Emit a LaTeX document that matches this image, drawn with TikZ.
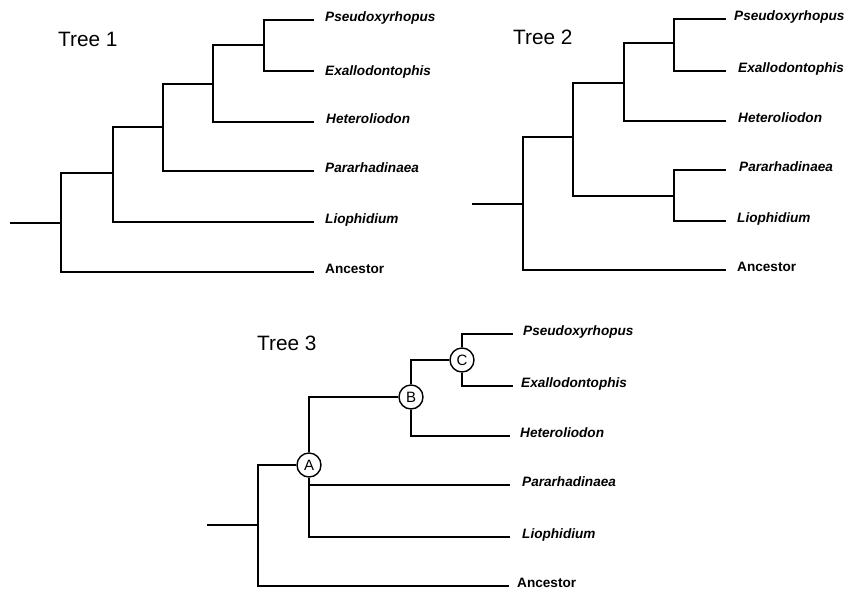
\documentclass[tikz,border=0pt]{standalone}
\usepackage{fontspec}
\setmainfont{Liberation Sans}
\begin{document}
\begin{tikzpicture}[x=1pt,y=-1pt,
  br/.style={line width=2.3pt, line join=miter},
  taxon/.style={anchor=west, inner sep=0pt, text height=9.8pt, text depth=0pt, yshift=3pt,
    font=\fontsize{13.6}{15}\selectfont\bfseries\itshape},
  anc/.style={taxon, font=\fontsize{13.6}{15}\selectfont\bfseries},
  ttl/.style={anchor=west, inner sep=0pt, text height=15pt, text depth=0pt,
    font=\fontsize{20.8}{24}\selectfont},
  circ/.style={circle, draw, line width=1.4pt, minimum size=24pt, inner sep=0pt,
    font=\fontsize{15}{16}\selectfont}]
\useasboundingbox[fill=white] (0,0) rectangle (848,592);

% ---------------- Tree 1 ----------------
\node[ttl] (T1) at (58,39) {Tree 1};
\coordinate (t1root) at (10,223);
\coordinate (t1n1) at (61,223);
\coordinate (t1n1t) at (61,173);
\coordinate (t1n1b) at (61,272);
\coordinate (t1n2) at (113,173);
\coordinate (t1n2t) at (113,127);
\coordinate (t1n2b) at (113,222);
\coordinate (t1n3) at (163,127);
\coordinate (t1n3t) at (163,84);
\coordinate (t1n3b) at (163,171);
\coordinate (t1n4) at (213,84);
\coordinate (t1n4t) at (213,45);
\coordinate (t1n4b) at (213,122);
\coordinate (t1n5) at (264,45);
\coordinate (t1n5t) at (264,20);
\coordinate (t1n5b) at (264,71);
\coordinate (t1pse) at (314,20);
\coordinate (t1exa) at (314,71);
\coordinate (t1het) at (314,122);
\coordinate (t1par) at (314,171);
\coordinate (t1lio) at (314,222);
\coordinate (t1anc) at (314,272);
\draw[br] (t1root) -- (t1n1);
\draw[br] (t1n2) -- (t1n1t) -- (t1n1b) -- (t1anc);
\draw[br] (t1n3) -- (t1n2t) -- (t1n2b) -- (t1lio);
\draw[br] (t1n4) -- (t1n3t) -- (t1n3b) -- (t1par);
\draw[br] (t1n5) -- (t1n4t) -- (t1n4b) -- (t1het);
\draw[br] (t1pse) -- (t1n5t) -- (t1n5b) -- (t1exa);
\node[taxon] (L1pse) at (325,20) {Pseudoxyrhopus};
\node[taxon] (L1exa) at (325,74) {Exallodontophis};
\node[taxon] (L1het) at (326,122) {Heteroliodon};
\node[taxon] (L1par) at (325,171) {Pararhadinaea};
\node[taxon] (L1lio) at (325,222) {Liophidium};
\node[anc] (L1anc) at (325,272) {Ancestor};

% ---------------- Tree 2 ----------------
\node[ttl] (T2) at (513,37) {Tree 2};
\coordinate (t2root) at (472,204);
\coordinate (t2n1) at (523,204);
\coordinate (t2n1t) at (523,137);
\coordinate (t2n1b) at (523,270);
\coordinate (t2n2) at (573,137);
\coordinate (t2n2t) at (573,83);
\coordinate (t2n2b) at (573,196);
\coordinate (t2n3) at (624,83);
\coordinate (t2n3t) at (624,43);
\coordinate (t2n3b) at (624,121);
\coordinate (t2n4) at (674,43);
\coordinate (t2n4t) at (674,19);
\coordinate (t2n4b) at (674,71);
\coordinate (t2n5) at (674,196);
\coordinate (t2n5t) at (674,170);
\coordinate (t2n5b) at (674,221);
\coordinate (t2pse) at (726,19);
\coordinate (t2exa) at (726,71);
\coordinate (t2het) at (726,121);
\coordinate (t2par) at (726,170);
\coordinate (t2lio) at (726,221);
\coordinate (t2anc) at (726,270);
\draw[br] (t2root) -- (t2n1);
\draw[br] (t2n2) -- (t2n1t) -- (t2n1b) -- (t2anc);
\draw[br] (t2n3) -- (t2n2t) -- (t2n2b) -- (t2n5);
\draw[br] (t2n4) -- (t2n3t) -- (t2n3b) -- (t2het);
\draw[br] (t2pse) -- (t2n4t) -- (t2n4b) -- (t2exa);
\draw[br] (t2par) -- (t2n5t) -- (t2n5b) -- (t2lio);
\node[taxon] (L2pse) at (734,19) {Pseudoxyrhopus};
\node[taxon] (L2exa) at (738,71) {Exallodontophis};
\node[taxon] (L2het) at (738,121) {Heteroliodon};
\node[taxon] (L2par) at (739,170) {Pararhadinaea};
\node[taxon] (L2lio) at (737,221) {Liophidium};
\node[anc] (L2anc) at (737,270) {Ancestor};

% ---------------- Tree 3 ----------------
\node[ttl] (T3) at (257,343) {Tree 3};
\node[circ] (A) at (309,465) {A};
\node[circ] (B) at (411,397) {B};
\node[circ] (C) at (462,360) {C};
\coordinate (t3root) at (207,525);
\coordinate (t3n1) at (258,525);
\coordinate (t3n1t) at (258,465);
\coordinate (t3n1b) at (258,586);
\coordinate (t3At) at (309,397);
\coordinate (t3Ap) at (309,485);
\coordinate (t3Ab) at (309,537);
\coordinate (t3Bt) at (411,360);
\coordinate (t3Bb) at (411,436);
\coordinate (t3Ct) at (462,334);
\coordinate (t3Cb) at (462,386);
\coordinate (t3pse) at (513,334);
\coordinate (t3exa) at (513,386);
\coordinate (t3het) at (510,436);
\coordinate (t3par) at (510,485);
\coordinate (t3lio) at (510,537);
\coordinate (t3anc) at (509,586);
\draw[br] (t3root) -- (t3n1);
\draw[br] (A) -- (t3n1t) -- (t3n1b) -- (t3anc);
\draw[br] (A) -- (t3At) -- (B);
\draw[br] (A) -- (t3Ab) -- (t3lio);
\draw[br] (t3Ap) -- (t3par);
\draw[br] (B) -- (t3Bt) -- (C);
\draw[br] (B) -- (t3Bb) -- (t3het);
\draw[br] (C) -- (t3Ct) -- (t3pse);
\draw[br] (C) -- (t3Cb) -- (t3exa);
\node[taxon] (L3pse) at (523,334) {Pseudoxyrhopus};
\node[taxon] (L3exa) at (521,386) {Exallodontophis};
\node[taxon] (L3het) at (520,436) {Heteroliodon};
\node[taxon] (L3par) at (522,485) {Pararhadinaea};
\node[taxon] (L3lio) at (522,537) {Liophidium};
\node[anc] (L3anc) at (517,586) {Ancestor};
\end{tikzpicture}
\end{document}
